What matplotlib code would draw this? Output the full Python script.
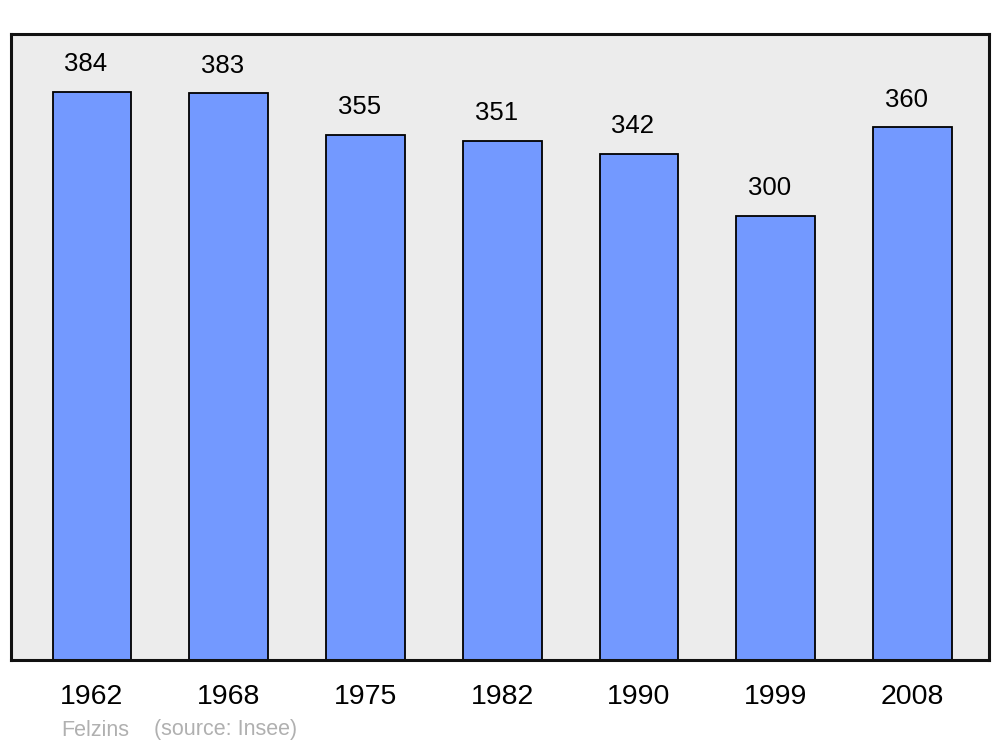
import matplotlib
matplotlib.use("Agg")
import matplotlib.pyplot as plt

years = ["1962", "1968", "1975", "1982", "1990", "1999", "2008"]
population = [384, 383, 355, 351, 342, 300, 360]
title_text = "Felzins"
source_text = "(source: Insee)"

plt.rcParams['font.family'] = ['Liberation Sans', 'DejaVu Sans']

fig = plt.figure(figsize=(10, 7.47), dpi=100)
W, H = 1000, 747
ax = fig.add_axes([11 / W, 1 - 660 / H, (989 - 11) / W, (660 - 34) / H])
ax.set_facecolor('#ececec')

x = list(range(len(years)))
bars = ax.bar(x, population, width=0.575, color='#7399ff', edgecolor='black', linewidth=1.3, zorder=2)
for xi, v in zip(x, population):
    ax.annotate(str(v), (xi, v), xytext=(-4.3, 20), textcoords='offset points',
                ha='center', va='center', fontsize=18.5, color='black')

ax.set_xlim(-0.592, 6.56)
ax.set_ylim(0, 423.2)
ax.set_yticks([])
ax.set_xticks(x)
ax.set_xticklabels(years, fontsize=20.5)
ax.tick_params(axis='x', length=0, pad=17)
for s in ax.spines.values():
    s.set_linewidth(2.2)
    s.set_color('#111111')

fig.text(61 / W, 1 - 730 / H, title_text, fontsize=15.5, color='#b0b0b0', va='center', ha='left')
fig.text(154 / W, 1 - 730 / H, source_text, fontsize=15.5, color='#b0b0b0', va='center', ha='left')

fig.savefig('out.png', dpi=100, facecolor='white')
